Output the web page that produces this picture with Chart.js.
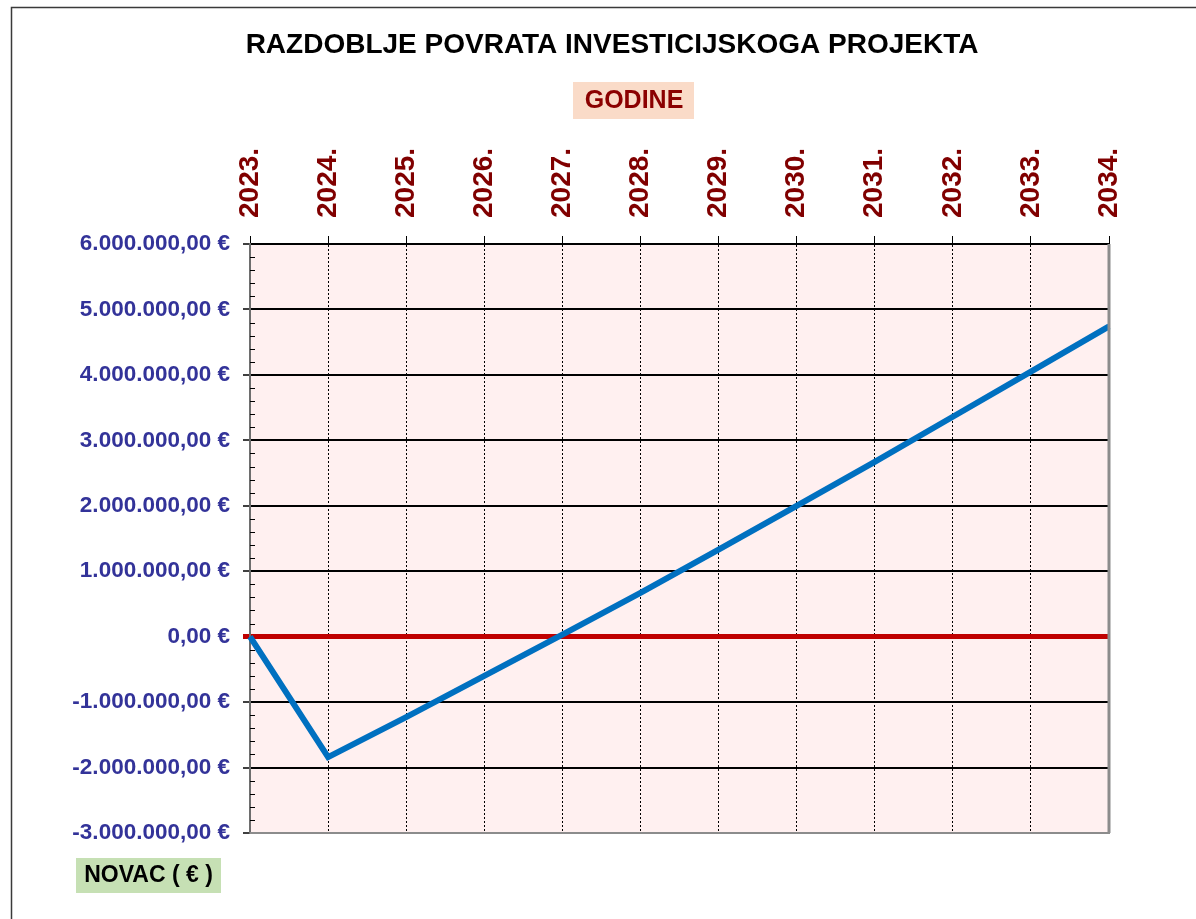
<!DOCTYPE html>
<html>
<head>
<meta charset="utf-8">
<script src="https://cdn.jsdelivr.net/npm/chart.js@4.4.1/dist/chart.umd.min.js"></script>
<style>
  html, body { margin: 0; padding: 0; background: #ffffff; }
  #wrap { position: relative; width: 1196px; height: 919px; }
  canvas { display: block; }
</style>
</head>
<body>
<div id="wrap"><canvas id="c" width="1196" height="919"></canvas></div>
<script>
// ---- DATA ----
const chartTitle = 'RAZDOBLJE POVRATA INVESTICIJSKOGA PROJEKTA';
const xAxisTitle = 'GODINE';
const yAxisTitle = 'NOVAC ( € )';
const years = ['2023.', '2024.', '2025.', '2026.', '2027.', '2028.', '2029.', '2030.', '2031.', '2032.', '2033.', '2034.'];
const cumulativeCash = [0, -1840000, -1230000, -600000, 30000, 670000, 1330000, 2000000, 2670000, 3360000, 4050000, 4740000];
const yMin = -3000000;
const yMax = 6000000;
const yStep = 1000000;
const yMinorStep = 200000;

// ---- HELPERS ----
function fmtEuro(v) {
  const neg = v < 0;
  const parts = Math.abs(v).toFixed(2).split('.');
  const intPart = parts[0].replace(/\B(?=(\d{3})+(?!\d))/g, '.');
  return (neg ? '-' : '') + intPart + ',' + parts[1] + ' €';
}

const FONT = "'Liberation Sans', Arial, Helvetica, sans-serif";
Chart.defaults.font.family = FONT;
const X_LABEL_SIZE = 28;

const decor = {
  id: 'decor',
  beforeDraw(chart) {
    const ctx = chart.ctx;
    const a = chart.chartArea;
    ctx.save();
    ctx.fillStyle = '#ffffff';
    ctx.fillRect(0, 0, chart.width, chart.height);
    // outer frame
    ctx.strokeStyle = '#3a3a3a';
    ctx.lineWidth = 1.5;
    ctx.strokeRect(11.5, 7.5, 1300, 1100);
    // plot background
    ctx.fillStyle = '#FFF0F0';
    ctx.fillRect(a.left, a.top, a.right - a.left, a.bottom - a.top);
    ctx.restore();
  },
  afterDraw(chart) {
    const ctx = chart.ctx;
    const a = chart.chartArea;
    const ys = chart.scales.y;
    ctx.save();
    // minor ticks on the y axis (inside)
    ctx.strokeStyle = '#000000';
    ctx.lineWidth = 1;
    for (let v = yMin; v <= yMax + 1; v += yMinorStep) {
      if (Math.abs(v % yStep) < 1) continue;
      const py = Math.round(ys.getPixelForValue(v)) + 0.5;
      ctx.beginPath();
      ctx.moveTo(a.left, py);
      ctx.lineTo(a.left + 5, py);
      ctx.stroke();
    }
    // right and bottom plot borders
    ctx.strokeStyle = '#8c8c8c';
    ctx.lineWidth = 3;
    ctx.beginPath();
    ctx.moveTo(a.right, a.top);
    ctx.lineTo(a.right, a.bottom);
    ctx.stroke();
    ctx.lineWidth = 2;
    ctx.beginPath();
    ctx.moveTo(a.left, a.bottom);
    ctx.lineTo(a.right + 1, a.bottom);
    ctx.stroke();

    // title
    ctx.fillStyle = '#000000';
    ctx.font = 'bold 28px ' + FONT;
    ctx.textAlign = 'center';
    ctx.textBaseline = 'middle';
    ctx.fillText(chartTitle, 612, 45);

    // x axis title box
    ctx.fillStyle = '#FADBC8';
    ctx.fillRect(573, 82, 121, 37);
    ctx.fillStyle = '#8B0000';
    ctx.font = 'bold 25px ' + FONT;
    ctx.fillText(xAxisTitle, 634, 101);

    // y axis title box
    ctx.fillStyle = '#C6E0B4';
    ctx.fillRect(76, 858, 145, 35);
    ctx.fillStyle = '#000000';
    ctx.font = 'bold 23px ' + FONT;
    ctx.fillText(yAxisTitle, 148.5, 876);
    ctx.restore();
  }
};

new Chart(document.getElementById('c'), {
  type: 'line',
  data: {
    labels: years,
    datasets: [{
      label: 'Novac',
      data: cumulativeCash,
      borderColor: '#0070C0',
      backgroundColor: '#0070C0',
      borderWidth: 6,
      pointRadius: 0,
      tension: 0,
      fill: false
    }]
  },
  options: {
    responsive: false,
    animation: false,
    events: [],
    layout: { padding: { left: 0, top: 0, right: 87, bottom: 86 } },
    plugins: {
      legend: { display: false },
      title: { display: false },
      tooltip: { enabled: false }
    },
    scales: {
      x: {
        type: 'category',
        position: 'top',
        offset: false,
        afterFit(scale) { scale.height = 244; },
        grid: {
          color: '#000000',
          lineWidth: 1,
          drawTicks: true,
          tickLength: 8,
          tickColor: '#000000',
          tickWidth: 1,
          tickBorderDash: [],
          tickBorderDashOffset: 0
        },
        border: { display: true, color: '#000000', width: 2, dash: [2, 2] },
        ticks: {
          autoSkip: false,
          minRotation: 90,
          maxRotation: 90,
          padding: 18,
          labelOffset: X_LABEL_SIZE * 1.2,
          color: '#800000',
          font: { size: X_LABEL_SIZE, weight: 'bold', family: FONT }
        }
      },
      y: {
        min: yMin,
        max: yMax,
        afterFit(scale) { scale.width = 250; },
        afterBuildTicks(scale) {
          const t = [];
          for (let v = yMin; v <= yMax; v += yStep) t.push({ value: v });
          scale.ticks = t;
        },
        grid: {
          color: (c) => (c.tick && c.tick.value === 0 ? '#C00000' : '#000000'),
          lineWidth: (c) => (c.tick && c.tick.value === 0 ? 5 : 2),
          tickLength: 7,
          tickColor: (c) => (c.tick && c.tick.value === 0 ? '#C00000' : '#000000'),
          tickWidth: (c) => (c.tick && c.tick.value === 0 ? 5 : 1.5)
        },
        border: { display: true, color: '#6e6e6e', width: 2 },
        ticks: {
          padding: 13,
          color: '#333399',
          font: { size: 22.5, weight: 'bold', family: FONT },
          callback: (v) => fmtEuro(v)
        }
      }
    }
  },
  plugins: [decor]
});
</script>
</body>
</html>
